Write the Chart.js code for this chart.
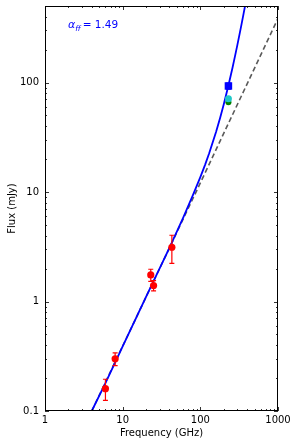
<!DOCTYPE html>
<html>
<head>
<meta charset="utf-8">
<script src="https://cdn.jsdelivr.net/npm/chart.js@4.4.1/dist/chart.umd.min.js"></script>
<style>
    body { margin: 0; background: #fff; }
    #wrap { width: 299px; height: 447px; }
</style>
</head>
<body>
<div id="wrap"><canvas id="sed" width="299" height="447"></canvas></div>
<script>
// radio points (red)
const radioFreq = [6, 8, 23, 25, 43];
const radioFlux = [0.16, 0.30, 1.75, 1.40, 3.13];
const radioErr = [0.035, 0.04, 0.22, 0.15, 0.9];

// mm points at 230 GHz
const almaFreq = [230];
const almaFlux = [93];
const almaErr = [6];
const cyanFreq = [230];
const cyanFlux = [71];
const greenFreq = [230];
const greenFlux = [66];

// free-free + dust model (solid)
const modelFreq = [4, 6, 10, 20, 40, 60, 80, 100, 115, 130, 160, 180, 200, 230, 260, 280, 300, 320, 340, 360, 380];
const modelFlux = [0.10, 0.18, 0.39, 1.10, 3.09, 5.8, 9.3, 13.7, 17.7, 22.6, 35.7, 47.7, 62.9, 94, 137, 175, 221, 277, 343, 423, 517];

// free-free only (dashed)
const ffFreq = [4, 100, 1000];
const ffFlux = [0.1, 12.1, 385];

const xTicks = [1, 10, 100, 1000];
const xTickLabels = ['1', '10', '100', '1000'];
const yTicks = [0.1, 1, 10, 100];
const yTickLabels = ['0.1', '1', '10', '100'];

const alphaText = '1.49';

const toXY = (xs, ys) => xs.map((x, i) => ({ x: x, y: ys[i] }));
const tickFont = { family: 'DejaVu Sans', size: 10 };

// frame + inward ticks on all four sides
const framePlugin = {
    id: 'frame',
    afterDraw(chart) {
        const ctx = chart.ctx;
        const a = chart.chartArea;
        const xs = chart.scales.x, ys = chart.scales.y;
        ctx.save();
        ctx.strokeStyle = '#000';
        ctx.lineWidth = 1;
        ctx.strokeRect(a.left + 0.5, a.top + 0.5, a.right - a.left - 1, a.bottom - a.top - 1);

        ctx.lineWidth = 0.8;
        const tick = (v, len, horiz) => {
            ctx.beginPath();
            if (horiz) {
                const px = Math.round(xs.getPixelForValue(v)) + 0.5;
                ctx.moveTo(px, a.bottom); ctx.lineTo(px, a.bottom - len);
                ctx.moveTo(px, a.top); ctx.lineTo(px, a.top + len);
            } else {
                const py = Math.round(ys.getPixelForValue(v)) + 0.5;
                ctx.moveTo(a.left, py); ctx.lineTo(a.left + len, py);
                ctx.moveTo(a.right, py); ctx.lineTo(a.right - len, py);
            }
            ctx.stroke();
        };
        xTicks.forEach(v => tick(v, 4, true));
        yTicks.forEach(v => tick(v, 4, false));
        for (let d = 0; d < 3; d++) {
            for (let k = 2; k <= 9; k++) tick(k * Math.pow(10, d), 2, true);
        }
        for (let d = -1; d < 3; d++) {
            for (let k = 2; k <= 9; k++) {
                const v = k * Math.pow(10, d);
                if (v <= ys.max) tick(v, 2, false);
            }
        }

        // annotation
        let x = 68;
        const base = 28;
        ctx.fillStyle = '#0000ff';
        ctx.textBaseline = 'alphabetic';
        ctx.font = 'italic 11px "DejaVu Sans"';
        ctx.fillText('α', x, base);
        x += ctx.measureText('α').width;
        ctx.font = 'italic 7.5px "DejaVu Sans"';
        ctx.fillText('ff', x, base + 2.5);
        x += ctx.measureText('ff').width + 2;
        ctx.font = '10.5px "DejaVu Sans"';
        ctx.fillText('= ' + alphaText, x, base);
        ctx.restore();
    }
};

// vertical error bars with caps
const errorBarPlugin = {
    id: 'errorBars',
    afterDatasetsDraw(chart) {
        const ctx = chart.ctx;
        const xs = chart.scales.x, ys = chart.scales.y;
        ctx.save();
        chart.data.datasets.forEach(ds => {
            if (!ds.errors) return;
            ctx.strokeStyle = ds.backgroundColor;
            ctx.lineWidth = 1.2;
            ds.data.forEach((p, i) => {
                const e = ds.errors[i];
                const px = xs.getPixelForValue(p.x);
                const y1 = ys.getPixelForValue(p.y + e);
                const y2 = ys.getPixelForValue(p.y - e);
                ctx.beginPath();
                ctx.moveTo(px, y1); ctx.lineTo(px, y2);
                ctx.moveTo(px - 2.5, y1); ctx.lineTo(px + 2.5, y1);
                ctx.moveTo(px - 2.5, y2); ctx.lineTo(px + 2.5, y2);
                ctx.stroke();
            });
        });
        ctx.restore();
    }
};

new Chart(document.getElementById('sed').getContext('2d'), {
    type: 'scatter',
    data: {
        datasets: [
            {
                data: toXY(radioFreq, radioFlux),
                errors: radioErr,
                backgroundColor: '#ff0000',
                pointRadius: 3.6,
                pointBorderWidth: 0,
                order: 0
            },
            {
                data: toXY(almaFreq, almaFlux),
                errors: almaErr,
                backgroundColor: '#0000ff',
                pointStyle: 'rect',
                pointRadius: 5.3,
                pointBorderWidth: 0,
                order: 0
            },
            {
                data: toXY(cyanFreq, cyanFlux),
                backgroundColor: '#20c8c8',
                pointRadius: 3.5,
                pointBorderWidth: 0,
                order: 0
            },
            {
                data: toXY(greenFreq, greenFlux),
                backgroundColor: '#008000',
                pointRadius: 3,
                pointBorderWidth: 0,
                order: 0
            },
            {
                data: toXY(modelFreq, modelFlux),
                showLine: true,
                borderColor: '#0000ff',
                borderWidth: 1.8,
                pointRadius: 0,
                order: 1
            },
            {
                data: toXY(ffFreq, ffFlux),
                showLine: true,
                borderColor: '#5a5a5a',
                borderWidth: 1.6,
                borderDash: [5, 3],
                pointRadius: 0,
                order: 2
            }
        ]
    },
    options: {
        responsive: false,
        animation: false,
        layout: { padding: { left: 0, right: 21, top: 6, bottom: 0 } },
        plugins: {
            legend: { display: false },
            tooltip: { enabled: false }
        },
        scales: {
            x: {
                type: 'logarithmic',
                min: 1,
                max: 1000,
                afterBuildTicks: s => { s.ticks = xTicks.map(v => ({ value: v })); },
                afterFit: s => { s.height = 36; },
                grid: { display: false, drawTicks: false },
                border: { display: false },
                ticks: {
                    autoSkip: false,
                    maxRotation: 0,
                    padding: 3,
                    color: '#000',
                    font: tickFont,
                    callback: (v, i) => xTickLabels[i]
                },
                title: {
                    display: true,
                    text: 'Frequency (GHz)',
                    color: '#000',
                    font: tickFont,
                    padding: { top: 0, bottom: 8 }
                }
            },
            y: {
                type: 'logarithmic',
                min: 0.1,
                max: 500,
                afterBuildTicks: s => { s.ticks = yTicks.map(v => ({ value: v })); },
                afterFit: s => { s.width = 45; s.paddingTop = 0; s.paddingBottom = 0; },
                grid: { display: false, drawTicks: false },
                border: { display: false },
                ticks: {
                    autoSkip: false,
                    padding: 6,
                    color: '#000',
                    font: tickFont,
                    callback: (v, i) => yTickLabels[i]
                },
                title: {
                    display: true,
                    text: 'Flux (mJy)',
                    color: '#000',
                    font: tickFont,
                    padding: { top: 6, bottom: 0 }
                }
            }
        }
    },
    plugins: [framePlugin, errorBarPlugin]
});
</script>
</body>
</html>
